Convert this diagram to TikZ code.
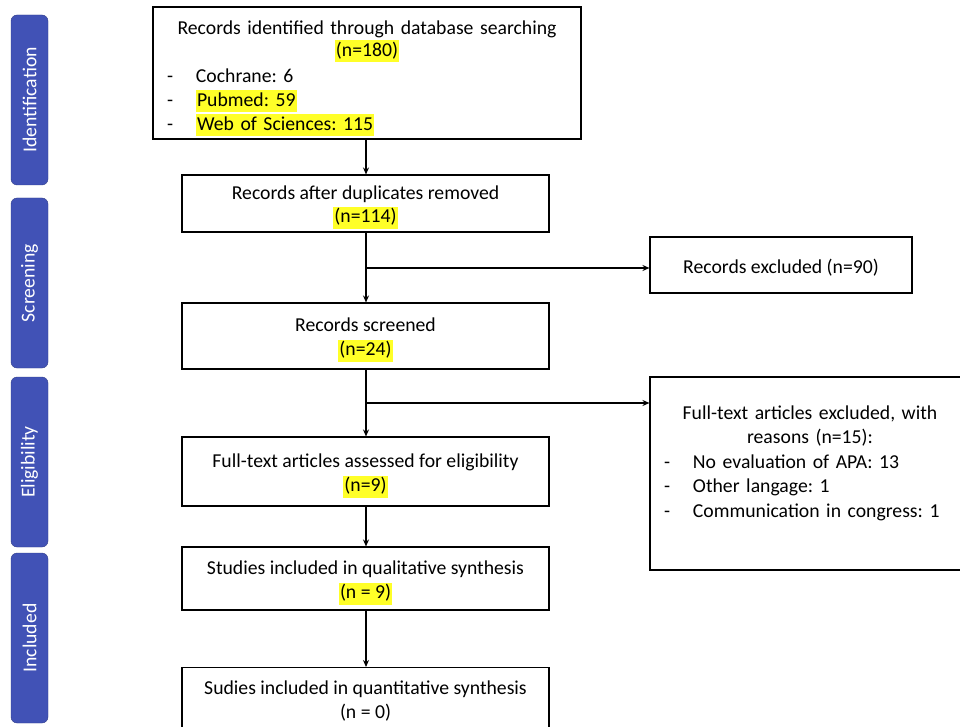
\documentclass[tikz,border=0pt]{standalone}
\usepackage{fontspec}
\setmainfont{Carlito}
\usetikzlibrary{arrows.meta}
\definecolor{barblue}{RGB}{65,82,182}
\definecolor{hlyellow}{RGB}{255,255,40}
\newcommand{\hlt}[1]{{\setlength{\fboxsep}{0pt}\colorbox{hlyellow}{\vrule height 16pt depth 6pt width 0pt\kern1pt#1\kern1pt}}}
\newcommand{\itm}[1]{\makebox[\linewidth][l]{\makebox[29pt][l]{-}#1}}
\newcommand{\fst}[1]{\vrule height #1 width 0pt}
\frenchspacing

\begin{document}
\begin{tikzpicture}[x=1pt,y=-1pt,
  flowbox/.style={draw, line width=1.1pt, fill=white, align=center, inner xsep=14pt, inner ysep=0pt,
    font=\fontsize{19.7}{24}\selectfont},
  phase/.style={draw=barblue!75!black, fill=barblue, rounded corners=6pt, minimum width=37pt,
    minimum height=170pt, inner sep=0pt},
  phaselabel/.style={text=white, rotate=90, font=\fontsize{19.7}{22}\selectfont},
  arr/.style={line width=1.1pt, -{Stealth[length=7pt,width=6pt]}}]
\useasboundingbox (0,0) rectangle (960,727);
\clip (0,0) rectangle (960,727);

\node[phase] (ph1) at (29.5,100) {};
\node[phase] (ph2) at (29.5,283) {};
\node[phase] (ph3) at (29.5,462) {};
\node[phase] (ph4) at (29.5,638) {};
\node[phaselabel] (lb1) at (ph1) {Identification};
\node[phaselabel] (lb2) at (ph2) {Screening};
\node[phaselabel] (lb3) at (ph3) {Eligibility};
\node[phaselabel] (lb4) at (ph4) {Included};

\node[flowbox, minimum width=428pt, minimum height=132pt, text width=400pt] (ident) at (367,73)
  {\fst{25pt}Records identified through database searching\\[-2pt] \hlt{(n=180)}\\[2pt]
   \itm{Cochrane: 6}\\ \itm{\hlt{Pubmed: 59}}\\ \itm{\hlt{Web of Sciences: 115}}};
\node[flowbox, minimum width=367pt, minimum height=57pt] (dupl) at (365.5,203.5)
  {\fst{21pt}Records after duplicates removed\\ \hlt{(n=114)}};
\node[flowbox, minimum width=367pt, minimum height=66pt] (screen) at (365.5,336)
  {\fst{21pt}Records screened\\ \hlt{(n=24)}};
\node[flowbox, minimum width=367pt, minimum height=69pt] (elig) at (365.5,471.5)
  {\fst{22pt}Full-text articles assessed for eligibility\\ \hlt{(n=9)}};
\node[flowbox, minimum width=367pt, minimum height=63pt] (qual) at (365.5,578.5)
  {\fst{22pt}Studies included in qualitative synthesis\\ \hlt{(n = 9)}};
\node[flowbox, minimum width=367pt, minimum height=136pt, anchor=north] (quant) at (365.5,667) {};
\node[font=\fontsize{19.7}{24}\selectfont, align=center] (quanttxt) at (365.5,701)
  {Sudies included in quantitative synthesis\\ (n = 0)};

\node[flowbox, minimum width=262pt, minimum height=56pt] (excl1) at (781,265)
  {\fst{19pt}Records excluded (n=90)};
\node[flowbox, minimum width=320pt, minimum height=193pt] (excl2) at (810,473.5) {};
\node[font=\fontsize{19.7}{24.5}\selectfont, align=center, text width=292pt, inner sep=0pt] (excl2txt) at (810,463)
  {Full-text articles excluded, with\\ reasons (n=15):\\
   \itm{No evaluation of APA: 13}\\ \itm{Other langage: 1}\\ \itm{Communication in congress: 1}};

\coordinate (br1) at (366,268);
\coordinate (br2) at (366,403);
\draw[arr] (ident.south -| br1) -- (dupl.north -| br1);
\draw[arr] (dupl.south -| br1) -- (screen.north -| br1);
\draw[arr] (screen.south -| br1) -- (elig.north -| br1);
\draw[arr] (elig.south -| br1) -- (qual.north -| br1);
\draw[arr] (qual.south -| br1) -- (quant.north -| br1);
\draw[arr] (br1) -- (br1 -| excl1.west);
\draw[arr] (br2) -- (br2 -| excl2.west);
\end{tikzpicture}
\end{document}
